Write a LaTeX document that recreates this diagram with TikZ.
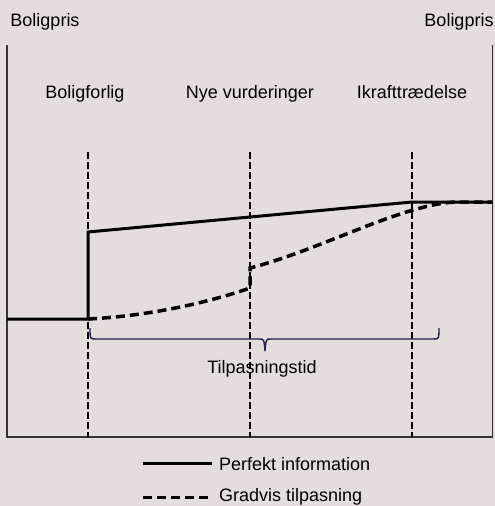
\documentclass[tikz,border=0pt]{standalone}
\usepackage{fontspec}
\setmainfont{Liberation Sans}
\definecolor{bgc}{RGB}{227,221,220}
\definecolor{navy}{RGB}{30,32,85}
\begin{document}
\begin{tikzpicture}[x=1pt,y=-1pt,
  lbl/.style={font=\fontsize{18}{21}\selectfont, inner sep=0pt, anchor=base},
  axisline/.style={draw=black!80, line width=1.3pt},
  marker/.style={draw=black, line width=2.6pt, dash pattern=on 6.5pt off 3.5pt},
  perfekt/.style={draw=black, line width=3pt, line join=miter},
  gradvis/.style={draw=black, line width=3.5pt, dash pattern=on 9pt off 5pt},
  bracket/.style={draw=navy, line width=1.4pt}]
\fill[bgc] (0,0) rectangle (495,506);
\useasboundingbox (0,0) rectangle (495,506);
% labels
\node[lbl] (yl) at (45,26.5) {Boligpris};
\node[lbl] (yr) at (459,26.5) {Boligpris};
\node[lbl] (t1) at (85,98.3) {Boligforlig};
\node[lbl] (t2) at (250,98.3) {Nye vurderinger};
\node[lbl] (t3) at (412,98.3) {Ikrafttrædelse};
\node[lbl] (tid) at (262,373) {Tilpasningstid};
% axes
\coordinate (tl) at (7,45);
\coordinate (bl) at (7,437);
\coordinate (br) at (492.5,437);
\coordinate (tr) at (492.5,45);
\draw[axisline] (tl) -- (bl) -- (br) -- (tr);
% event markers
\foreach \x/\n in {88/m1,250/m2,412/m3}{
  \coordinate (\n top) at (\x,152);
  \coordinate (\n bot) at (\x,437);
  \draw[marker] (\n top) -- (\n bot);
}
% gradual adjustment
\coordinate (g0) at (88,319);
\coordinate (g1) at (250,288);
\coordinate (g2) at (250,268);
\coordinate (g3) at (455,202);
\coordinate (g4) at (492,202);
\draw[gradvis] (g0) .. controls (150,316) and (210,302) .. (g1) -- (g2)
  .. controls (320,250) and (400,205) .. (g3) -- (g4);
% perfect information
\coordinate (p0) at (7,319);
\coordinate (p1) at (88,319);
\coordinate (p2) at (88,232);
\coordinate (p3) at (412,202);
\coordinate (p4) at (492.5,202);
\draw[perfekt] (p0) -- (p1) -- (p2) -- (p3) -- (p4);
% bracket
\coordinate (b0) at (90,328);
\coordinate (btip) at (265,351);
\coordinate (b1) at (439,328);
\draw[bracket] (b0) .. controls (90,339) .. (96,339) -- (259,339)
  .. controls (264,339) .. (btip) .. controls (266,339) .. (271,339)
  -- (433,339) .. controls (439,339) .. (b1);
% legend
\coordinate (l1a) at (143,463.5);
\coordinate (l1b) at (212,463.5);
\coordinate (l2a) at (143,497.5);
\coordinate (l2b) at (212,497.5);
\draw[perfekt] (l1a) -- (l1b);
\draw[gradvis, line width=3.3pt] (l2a) -- (l2b);
\node[lbl, anchor=base west] (lg1) at (219,470) {Perfekt information};
\node[lbl, anchor=base west] (lg2) at (219,501.5) {Gradvis tilpasning};
\end{tikzpicture}
\end{document}
